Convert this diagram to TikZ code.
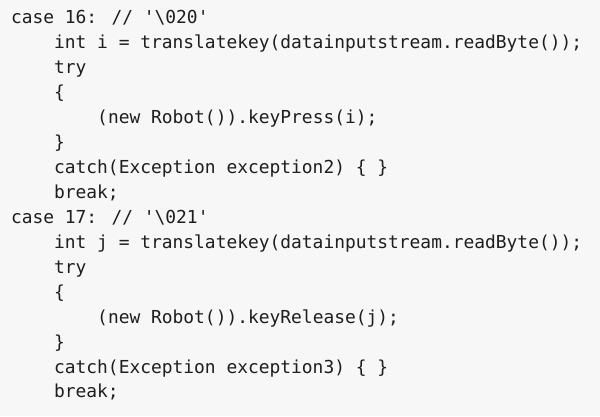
\documentclass[tikz,border=0pt]{standalone}
\usepackage{fontspec}
\newfontfamily\codefont{DejaVu Sans Mono}
\definecolor{bgc}{HTML}{F7F7F7}
\definecolor{txt}{HTML}{1E1E1E}
\begin{document}
\begin{tikzpicture}[x=1pt,y=1pt,
  codeline/.style={anchor=base west,inner sep=0pt,outer sep=0pt,text=txt,font=\codefont\fontsize{17.9pt}{20pt}\selectfont}]
\fill[bgc] (0,0) rectangle (600,416);
\useasboundingbox (0,0) rectangle (600,416);
\def\lh{24.93}
\def\cw{10.78}
\node[codeline] (l1) at (11,{416-24-0*\lh}) {case 16: // '\textbackslash 020'};
\node[codeline] (l2) at ({11+4*\cw},{416-24-1*\lh}) {int i = translatekey(datainputstream.readByte());};
\node[codeline] (l3) at ({11+4*\cw},{416-24-2*\lh}) {try};
\node[codeline] (l4) at ({11+4*\cw},{416-24-3*\lh}) {\{};
\node[codeline] (l5) at ({11+8*\cw},{416-24-4*\lh}) {(new Robot()).keyPress(i);};
\node[codeline] (l6) at ({11+4*\cw},{416-24-5*\lh}) {\}};
\node[codeline] (l7) at ({11+4*\cw},{416-24-6*\lh}) {catch(Exception exception2) \{ \}};
\node[codeline] (l8) at ({11+4*\cw},{416-24-7*\lh}) {break;};
\node[codeline] (l9) at (11,{416-24-8*\lh}) {case 17: // '\textbackslash 021'};
\node[codeline] (l10) at ({11+4*\cw},{416-24-9*\lh}) {int j = translatekey(datainputstream.readByte());};
\node[codeline] (l11) at ({11+4*\cw},{416-24-10*\lh}) {try};
\node[codeline] (l12) at ({11+4*\cw},{416-24-11*\lh}) {\{};
\node[codeline] (l13) at ({11+8*\cw},{416-24-12*\lh}) {(new Robot()).keyRelease(j);};
\node[codeline] (l14) at ({11+4*\cw},{416-24-13*\lh}) {\}};
\node[codeline] (l15) at ({11+4*\cw},{416-24-14*\lh}) {catch(Exception exception3) \{ \}};
\node[codeline] (l16) at ({11+4*\cw},{416-24-15*\lh}) {break;};
\end{tikzpicture}
\end{document}
